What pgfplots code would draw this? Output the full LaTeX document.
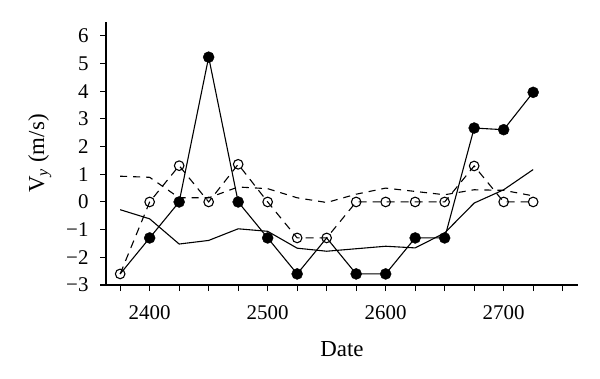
\documentclass[border=0pt]{standalone}
\usepackage{pgfplots}
\pgfplotsset{compat=1.18}
\usepackage{fontspec}
\setmainfont{Liberation Serif}
\begin{document}
\begin{tikzpicture}[x=1bp,y=1bp]
\path (0,0) rectangle (600,378);
\begin{axis}[
  at={(106bp,93bp)}, anchor=south west,
  scale only axis, width=472bp, height=263bp,
  xmin=2363, xmax=2763, ymin=-3, ymax=6.5,
  axis x line=bottom, axis y line=left,
  axis line style={-, line width=1.1pt},
  tick align=outside,
  major tick length=6bp, minor tick length=6bp,
  every tick/.style={black, line width=1.1pt},
  xtick={2400,2500,2600,2700},
  minor xtick={2375,2425,2450,2475,2525,2550,2575,2625,2650,2675,2725,2750},
  ytick={-3,-2,-1,0,1,2,3,4,5,6},
  yticklabels={−3,−2,−1,0,1,2,3,4,5,6},
  /pgf/number format/assume math mode=true,
  /pgf/number format/1000 sep={},
  tick label style={font=\fontsize{21}{24}\selectfont},
  yticklabel style={xshift=-8bp},
  xticklabel style={yshift=-11bp},
  xlabel={Date},
  ylabel={V\textsubscript{\itshape y} (m/s)},
  label style={font=\fontsize{23}{26}\selectfont},
  xlabel style={yshift=-15bp},
  ylabel style={yshift=8bp},
  clip=false,
]
% dashed, no markers
\addplot[black, line width=1.1pt, dash pattern=on 7bp off 6bp] coordinates {
(2375,0.93) (2400,0.89) (2425,0.15) (2450,0.15) (2475,0.54) (2500,0.48)
(2525,0.15) (2550,-0.02) (2575,0.28) (2600,0.5) (2625,0.38) (2650,0.26)
(2675,0.44) (2700,0.42) (2725,0.22)};
% solid, no markers
\addplot[black, line width=1.1pt] coordinates {
(2375,-0.28) (2400,-0.61) (2425,-1.52) (2450,-1.39) (2475,-0.97) (2500,-1.06)
(2525,-1.67) (2550,-1.78) (2575,-1.69) (2600,-1.6) (2625,-1.66) (2650,-1.12)
(2675,-0.04) (2700,0.44) (2725,1.17)};
% filled series line
\addplot[black, line width=1.1pt] coordinates {
(2375,-2.6) (2400,-1.3) (2425,0) (2450,5.23) (2475,0) (2500,-1.3)
(2525,-2.6) (2550,-1.3) (2575,-2.6) (2600,-2.6) (2625,-1.3) (2650,-1.3)
(2675,2.67) (2700,2.61) (2725,3.96)};
% filled circles (points hidden under open circles left out)
\addplot[only marks, black, mark=*, mark size=5.5bp, mark options={solid, fill=black}] coordinates {
(2400,-1.3) (2425,0) (2450,5.23) (2475,0) (2500,-1.3)
(2525,-2.6) (2575,-2.6) (2600,-2.6) (2625,-1.3) (2650,-1.3)
(2675,2.67) (2700,2.61) (2725,3.96)};
% open circles, dashed
\addplot[black, line width=1.1pt, dash pattern=on 8bp off 6bp, mark=o, mark size=4.8bp, mark options={solid, fill=white, line width=1.1pt}] coordinates {
(2375,-2.6) (2400,0) (2425,1.31) (2450,0) (2475,1.36) (2500,0)
(2525,-1.3) (2550,-1.3) (2575,0) (2600,0) (2625,0) (2650,0)
(2675,1.3) (2700,0) (2725,0)};
\end{axis}
\end{tikzpicture}
\end{document}
